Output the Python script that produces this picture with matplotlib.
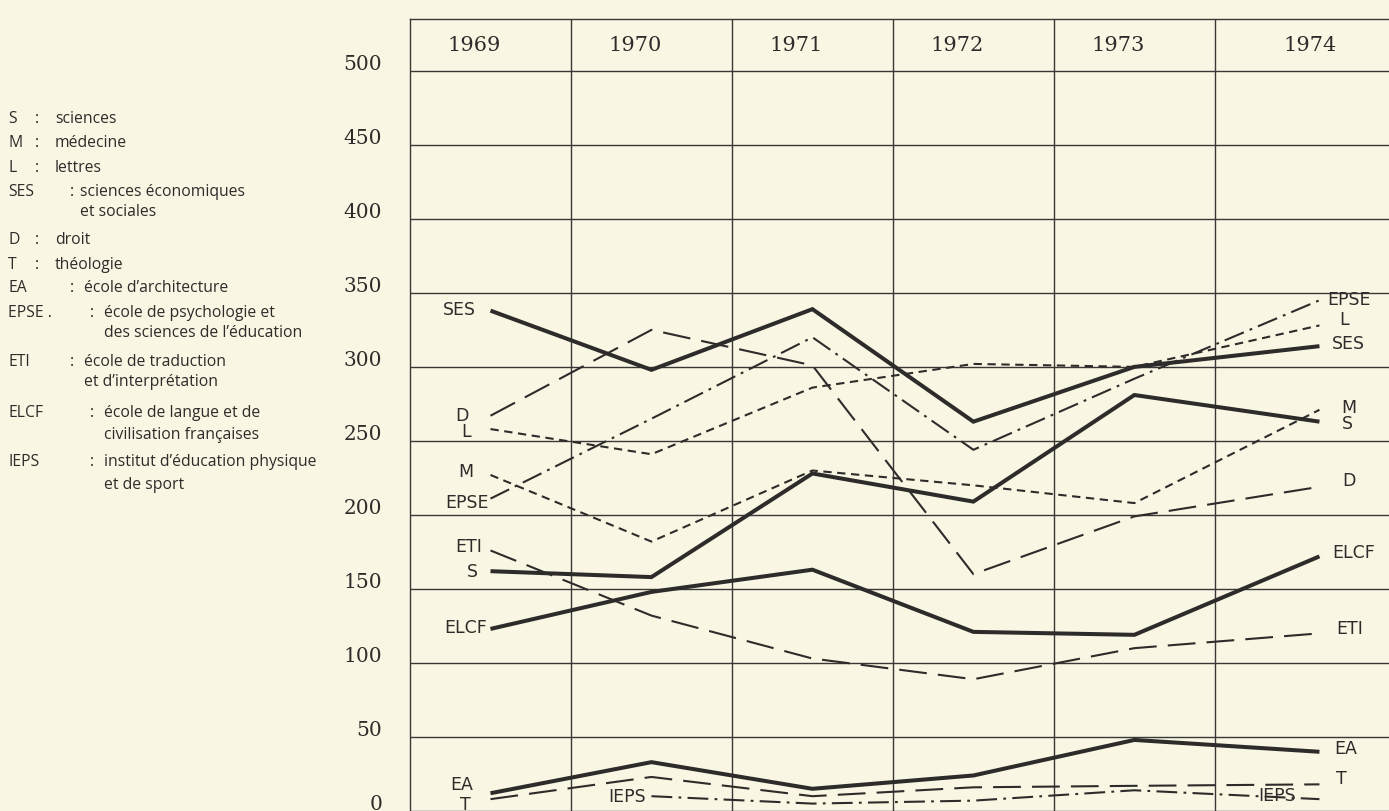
import numpy as np
import matplotlib
matplotlib.use("Agg")
import matplotlib.pyplot as plt
import matplotlib.transforms as mtransforms

plt.rcParams['lines.scale_dashes'] = False

# ---------------- data ----------------
years = ["1969", "1970", "1971", "1972", "1973", "1974"]
yticks = [0, 50, 100, 150, 200, 250, 300, 350, 400, 450, 500]

SES  = [338, 298, 339, 263, 300, 314]
D    = [267, 325, 301, 160, 199, 219]
L    = [258, 241, 286, 302, 300, 328]
EPSE = [211, 265, 320, 244, 292, 345]
M    = [227, 182, 230, 220, 208, 271]
S    = [162, 158, 228, 209, 281, 263]
ELCF = [123, 148, 163, 121, 119, 172]
ETI  = [176, 132, 103, 89, 110, 120]
EA   = [12, 33, 15, 24, 48, 40]
T    = [8, 23, 10, 16, 17, 18]
IEPS = [np.nan, 10, 5, 7, 14, 8]

legend_abbr = ["S", "M", "L", "SES", "D", "T", "EA", "EPSE .", "ETI", "ELCF", "IEPS"]
legend_desc = ["sciences", "médecine", "lettres",
               "sciences économiques\net sociales", "droit", "théologie",
               "école d’architecture",
               "école de psychologie et\ndes sciences de l’éducation",
               "école de traduction\net d’interprétation",
               "école de langue et de\ncivilisation françaises",
               "institut d’éducation physique\net de sport"]

# ---------------- style ----------------
W, H = 1389, 812
bg = "#faf6e4"
ink = "#2e2c2a"
grid_c = "#3a3836"

solid = dict(ls="-", lw=2.9)
long_dash = dict(ls=(0, (20, 8)), lw=1.5)
short_dash = dict(ls=(0, (6, 4)), lw=1.5)
dash_dot = dict(ls=(0, (15, 4.5, 2, 4.5)), lw=1.5)

# name, values, style, left label offset (px), right label offset (px)
series = [
    ("SES", SES, solid, (-15, 2), (12, 3)),
    ("D", D, long_dash, (-22, 1), (23, 7)),
    ("L", L, short_dash, (-20, -2), (20, 6)),
    ("EPSE", EPSE, dash_dot, (-2, -3), (8, 1)),
    ("M", M, short_dash, (-17, 4), (22, 3)),
    ("S", S, solid, (-13, 0), (22, -1)),
    ("ELCF", ELCF, solid, (-3, 2), (13, 4)),
    ("ETI", ETI, long_dash, (-8, 4), (17, 5)),
    ("EA", EA, solid, (-17, 9), (15, 4)),
    ("T", T, long_dash, (-20, -5), (17, 6)),
    ("IEPS", IEPS, dash_dot, (-6, 0), (-42, 4)),
]

fig = plt.figure(figsize=(W / 100, H / 100), dpi=100, facecolor=bg)
ax_left, ax_right, ax_top = 410, 1408, 20
ax = fig.add_axes([ax_left / W, 0, (ax_right - ax_left) / W, (H - ax_top) / H])
ax.set_facecolor(bg)
ax.set_xlim(0, 6.2)
ax.set_ylim(2.35, 535)

for sp in ["right", "bottom"]:
    ax.spines[sp].set_visible(False)
for sp in ["left", "top"]:
    ax.spines[sp].set_color(grid_c)
    ax.spines[sp].set_linewidth(1.0)

ax.set_xticks([1, 2, 3, 4, 5])
ax.set_xticklabels([])
ax.set_yticks(yticks)
ax.set_yticklabels([str(v) for v in yticks], family="DejaVu Serif",
                   fontsize=14.5, color=ink)
ax.tick_params(length=0, pad=20)
ax.grid(True, color=grid_c, lw=1.0)
offset = mtransforms.ScaledTranslation(0, 9 / 100, fig.dpi_scale_trans)
for lab in ax.get_yticklabels():
    lab.set_transform(lab.get_transform() + offset)

# year headers
year_x = np.arange(len(years)) + 0.4
year_x[-1] += 0.19
for xx, yr in zip(year_x, years):
    ax.text(xx, 518, yr, ha="center", va="center", family="DejaVu Serif",
            fontsize=15, color=ink)

# data lines
xs = np.arange(len(years)) + 0.5
xs[-1] += 0.15
lab_font = dict(family="DejaVu Sans", fontsize=12.5, color=ink)
for name, vals, st, loff, roff in series:
    vals = np.asarray(vals, dtype=float)
    ax.plot(xs, vals, color=ink, solid_capstyle="butt",
            dash_capstyle="butt", solid_joinstyle="miter", **st)
    valid = np.where(~np.isnan(vals))[0]
    i0, i1 = valid[0], valid[-1]
    ax.annotate(name, xy=(xs[i0], vals[i0]), xytext=loff,
                textcoords="offset pixels", ha="right", va="center",
                **lab_font)
    ax.annotate(name, xy=(xs[i1], vals[i1]), xytext=roff,
                textcoords="offset pixels",
                ha="center" if roff[0] < 0 else "left", va="center",
                **lab_font)

# legend block on the left
rows_y = [119, 143, 168, 192, 240, 265, 288, 313, 362, 413, 462]
colon_x = [35, 35, 35, 70, 35, 35, 70, 90, 70, 90, 90]
desc_x = [55, 55, 55, 80, 55, 55, 84, 104, 84, 104, 104]
line2_gap = [0, 0, 0, 20, 0, 0, 0, 20, 20, 22, 23]
leg_font = dict(family="Open Sans", fontsize=11.3, color=ink, va="center")
for ab, de, yy, cx, dx, g in zip(legend_abbr, legend_desc, rows_y, colon_x,
                                 desc_x, line2_gap):
    fig.text(8 / W, 1 - yy / H, ab, ha="left", **leg_font)
    fig.text(cx / W, 1 - yy / H, ":", ha="left", **leg_font)
    parts = de.split("\n")
    fig.text(dx / W, 1 - yy / H, parts[0], ha="left", **leg_font)
    if len(parts) > 1:
        fig.text(dx / W, 1 - (yy + g) / H, parts[1], ha="left", **leg_font)

fig.savefig("out.png", dpi=100, facecolor=bg)
